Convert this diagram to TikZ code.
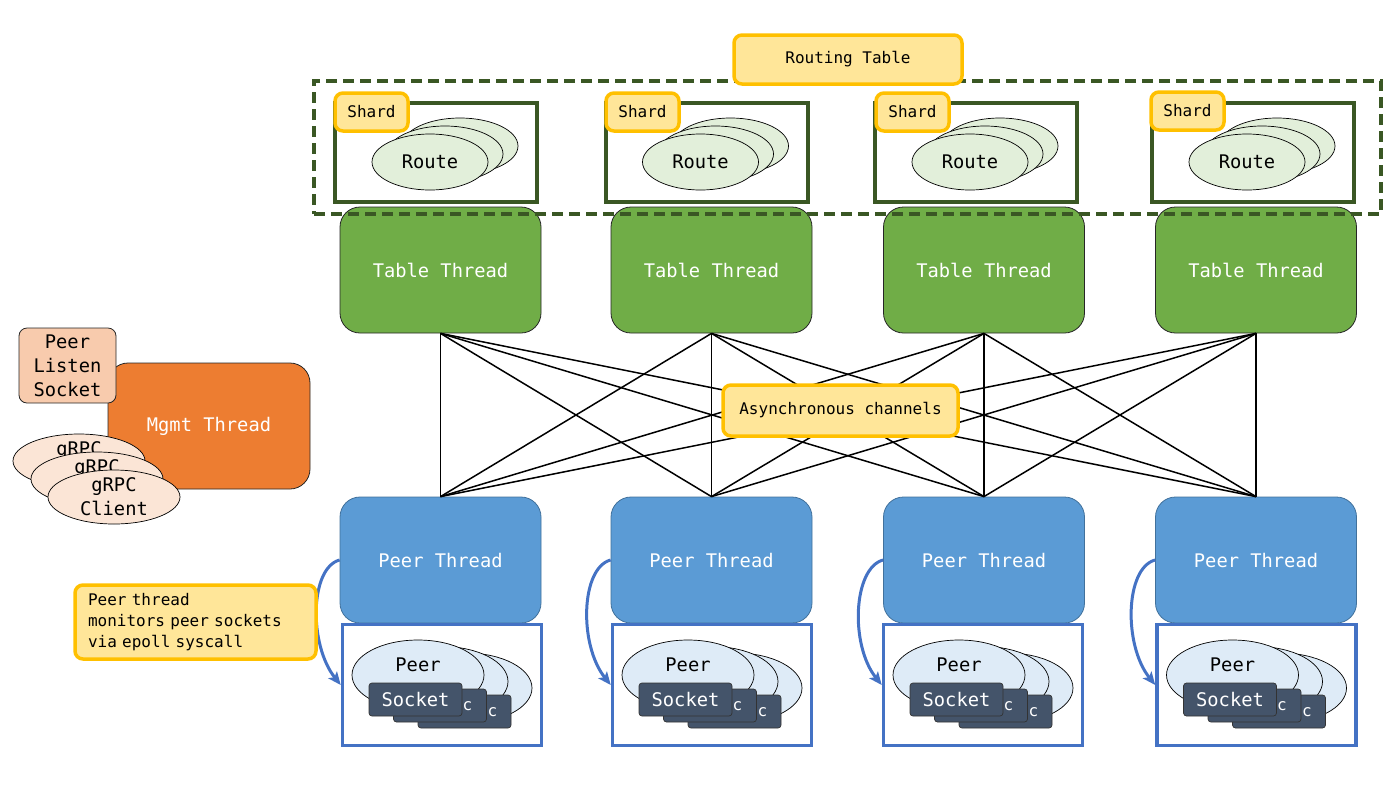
\documentclass[tikz,border=0pt]{standalone}
\usepackage{fontspec}
\setmonofont{DejaVu Sans Mono}
\usetikzlibrary{arrows.meta,shapes.geometric}
\definecolor{ylfill}{HTML}{FFE699}
\definecolor{ylborder}{HTML}{FFC000}
\definecolor{dkgreen}{HTML}{3A5724}
\definecolor{tgreen}{HTML}{70AD47}
\definecolor{pblue}{HTML}{5B9BD5}
\definecolor{pbluedark}{HTML}{41719C}
\definecolor{cblue}{HTML}{4472C4}
\definecolor{routefill}{HTML}{E2EFDA}
\definecolor{peerfill}{HTML}{DEEBF7}
\definecolor{sockfill}{HTML}{44546A}
\definecolor{mgmtorange}{HTML}{ED7D31}
\definecolor{listenfill}{HTML}{F8CBAD}
\definecolor{grpcfill}{HTML}{FBE5D6}
\newcommand{\bigf}{\ttfamily\fontsize{18.75}{24}\selectfont}
\newcommand{\smallf}{\ttfamily\fontsize{16}{21}\selectfont}
\tikzset{
  ybox/.style={draw=ylborder, fill=ylfill, line width=3.5pt, rounded corners=8pt, font=\smallf, inner sep=0pt},
  thread/.style={rounded corners=20pt, line width=0.8pt, minimum width=201pt, minimum height=126pt, text=white, font=\bigf, inner sep=0pt},
  tthread/.style={thread, fill=tgreen, draw=black!85},
  pthread/.style={thread, fill=pblue, draw=pbluedark},
  shardbox/.style={draw=dkgreen, fill=white, line width=4pt, minimum width=202pt, minimum height=99pt, inner sep=0pt},
  route/.style={ellipse, draw=black, fill=routefill, line width=0.7pt, minimum width=116pt, minimum height=56pt, font=\bigf, inner sep=0pt},
  container/.style={draw=cblue, fill=white, line width=3.5pt, minimum width=199pt, minimum height=121pt, inner sep=0pt},
  peerell/.style={ellipse, draw=black, fill=peerfill, line width=0.7pt, minimum width=132pt, minimum height=70pt, inner sep=0pt},
  sock/.style={draw=black!80, fill=sockfill, rounded corners=3pt, line width=0.7pt, minimum width=93pt, minimum height=33pt, text=white, font=\bigf, inner sep=0pt},
  socktail/.style={text=white, font=\smallf, inner sep=0pt},
  link/.style={draw=black, line width=1.5pt},
  monarrow/.style={draw=cblue, line width=3pt, -{Stealth[length=13pt,width=11pt,inset=3pt]}},
  grpc/.style={ellipse, draw=black, fill=grpcfill, line width=0.7pt, minimum width=132pt, minimum height=50pt, font=\bigf, align=center, inner sep=0pt},
}
\begin{document}
\begin{tikzpicture}[x=1pt,y=-1pt]
\useasboundingbox (0,0) rectangle (1400,788);
% threads
\foreach \i/\x in {1/440.5,2/711.5,3/984,4/1256}{
  \node[tthread] (t\i) at (\x,270) {Table Thread};
  \node[pthread] (p\i) at (\x,560) {Peer Thread};
}
% links
\foreach \i in {1,2,3,4}{
  \foreach \j in {1,2,3,4}{
    \draw[link] (t\i.south) -- (p\j.north);
  }
}
% shards
\foreach \i/\x/\lx/\ly in {1/436/371.5/112,2/706.5/642.5/112,3/976/912.5/112,4/1253/1187.5/111}{
  \node[shardbox] (s\i) at (\x,152.5) {};
  \node[route] (ra\i) at (\x+24,146) {};
  \node[route] (rb\i) at (\x+9,154) {};
  \node[route] (rc\i) at (\x-6,162) {Route};
  \node[ybox, minimum width=73pt, minimum height=38pt] (sl\i) at (\lx,\ly) {Shard};
}
% routing table dashed region
\node[draw=dkgreen, line width=4pt, dash pattern=on 11pt off 6pt, minimum width=1067pt, minimum height=133pt, inner sep=0pt] (rt) at (847.5,147.5) {};
\node[ybox, minimum width=228pt, minimum height=49pt] (rtl) at (848,59.5) {Routing Table};
% async channels label
\node[ybox, minimum width=235pt, minimum height=51pt] (async) at (840.5,410.5) {Asynchronous channels};
% peer socket containers
\foreach \i/\x in {1/442,2/712,3/983,4/1256.5}{
  \node[container] (c\i) at (\x,685) {};
  \node[peerell] (pec\i) at (\x+24,688) {};
  \node[peerell] (peb\i) at (\x,681.5) {};
  \node[peerell] (pea\i) at (\x-24,675) {};
  \node[font=\bigf, inner sep=0pt] (pt\i) at (\x-24,665) {Peer};
  \node[sock] (skc\i) at (\x+22.5,711.5) {};
  \node[socktail] (tc\i) at (\x+50.5,712) {c};
  \node[sock] (skb\i) at (\x-2,705.5) {};
  \node[socktail] (tb\i) at (\x+25.5,706) {c};
  \node[sock] (ska\i) at (\x-26.5,699.5) {Socket};
  \draw[monarrow] (p\i.west) .. controls +(-30,8) and +(-32,-40) .. (c\i.west);
}
% callout
\node[ybox, text width=215pt, inner xsep=13pt, align=left, minimum height=74pt, minimum width=241pt] (note) at (195.5,622) {Peer thread\\monitors peer sockets\\via epoll syscall};
% management
\node[thread, fill=mgmtorange, draw=black!85, minimum width=202pt] (mgmt) at (209,426) {Mgmt Thread};
\node[draw=black!85, fill=listenfill, rounded corners=8pt, line width=0.8pt, minimum width=97pt, minimum height=75pt, font=\bigf, align=center, inner sep=0pt] (listen) at (67.5,365.5) {Peer\\Listen\\Socket};
\node[grpc] (g1) at (79,461) {gRPC\\Client};
\node[grpc] (g2) at (97,479) {gRPC\\Client};
\node[grpc] (g3) at (114,497) {gRPC\\Client};
\end{tikzpicture}
\end{document}
